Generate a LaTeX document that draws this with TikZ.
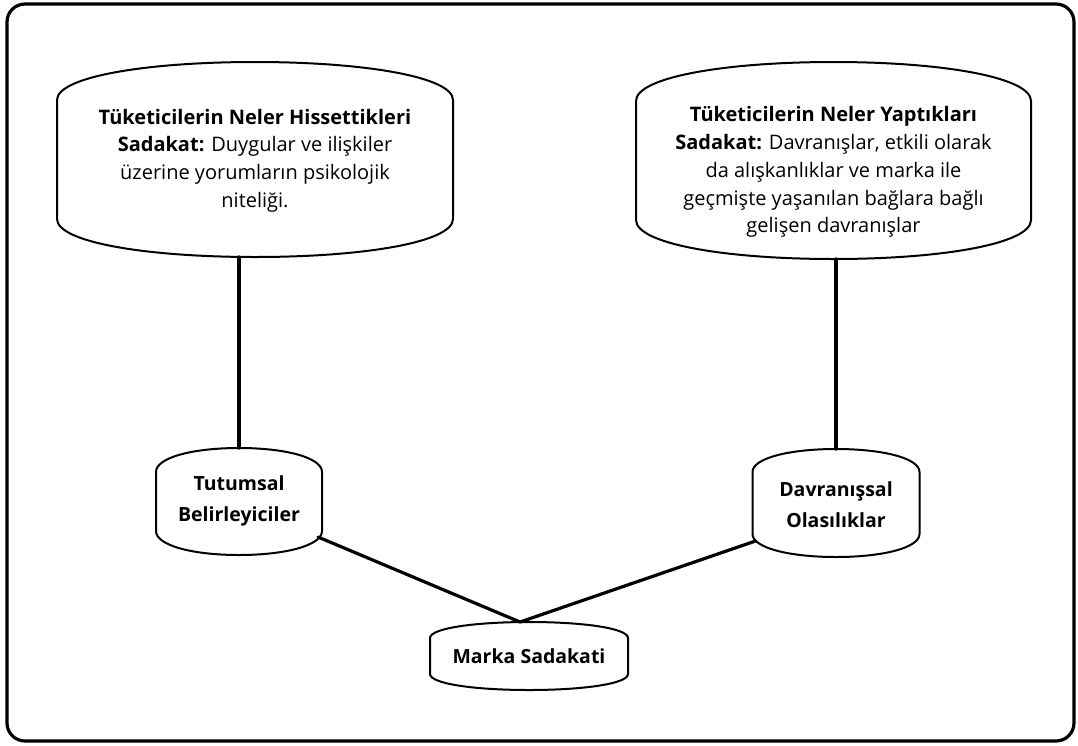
\documentclass[tikz,border=0pt]{standalone}
\usepackage{fontspec}
\setmainfont{Open Sans}
\usetikzlibrary{calc}

\tikzset{
  frame/.style={line width=3.2pt, rounded corners=18pt},
  outline/.style={line width=2pt, line join=round},
  link/.style={line width=3.2pt, line cap=round},
  holder/.style={inner sep=0pt, outer sep=0pt},
  txt/.style={align=center, inner sep=0pt, font=\fontsize{20}{27.8}\selectfont},
  smalltxt/.style={align=center, inner sep=0pt, font=\bfseries\fontsize{19.5}{31}\selectfont},
}

% Drum-like outline: straight sides, curved top and bottom caps.
% #1 = node name, #2 = depth of each cap (in pt)
\newcommand{\drumoutline}[2]{%
  \draw[outline] let \p1=(#1.north west), \p2=(#1.south east),
      \n1={#2}, \n2={0.22*(\x2-\x1)} in
    (\x1,{\y1-\n1*1pt})
      .. controls (\x1,{\y1-0.4*\n1*1pt}) and ({\x1+\n2*1pt},\y1) .. ({0.5*\x1+0.5*\x2},\y1)
      .. controls ({\x2-\n2*1pt},\y1) and (\x2,{\y1-0.4*\n1*1pt}) .. (\x2,{\y1-\n1*1pt})
    -- (\x2,{\y2+\n1*1pt})
      .. controls (\x2,{\y2+0.4*\n1*1pt}) and ({\x2-\n2*1pt},\y2) .. ({0.5*\x1+0.5*\x2},\y2)
      .. controls ({\x1+\n2*1pt},\y2) and (\x1,{\y2+0.4*\n1*1pt}) .. (\x1,{\y2+\n1*1pt})
    -- cycle;
}

\begin{document}
\begin{tikzpicture}[x=1pt, y=-1pt]
  \useasboundingbox (0,0) rectangle (1078,745);

  % outer frame
  \draw[frame] (7,4) rectangle (1074,741);

  % shape holders
  \node[holder, minimum width=396pt, minimum height=195pt] (lt) at (255,159.5) {};
  \node[holder, minimum width=395pt, minimum height=197pt] (rt) at (833.5,160.5) {};
  \node[holder, minimum width=166pt, minimum height=107pt] (tut) at (239,501.5) {};
  \node[holder, minimum width=167pt, minimum height=108pt] (dav) at (836,503) {};
  \node[holder, minimum width=198pt, minimum height=68pt] (mk) at (529,656) {};

  % outlines
  \drumoutline{lt}{38}
  \drumoutline{rt}{39}
  \drumoutline{tut}{24}
  \drumoutline{dav}{23}
  \drumoutline{mk}{16}

  % texts
  \node[txt] (ltxt) at ($(lt)+(0,1)$)
    {\textbf{Tüketicilerin Neler Hissettikleri}\\
     \textbf{Sadakat:} Duygular ve ilişkiler\\
     üzerine yorumların psikolojik\\
     niteliği.};
  \node[txt] (rtxt) at ($(rt)+(0,11.5)$)
    {\textbf{Tüketicilerin Neler Yaptıkları}\\
     \textbf{Sadakat:} Davranışlar, etkili olarak\\
     da alışkanlıklar ve marka ile\\
     geçmişte yaşanılan bağlara bağlı\\
     gelişen davranışlar};
  \node[smalltxt] (tuttxt) at ($(tut)+(0,-0.5)$) {Tutumsal\\Belirleyiciler};
  \node[smalltxt] (davtxt) at ($(dav)+(0,2)$) {Davranışsal\\Olasılıklar};
  \node[smalltxt] (mktxt) at (mk) {Marka Sadakati};

  % connectors
  \draw[link] (lt.south -| tut.north) -- (tut.north);
  \draw[link] (rt.south -| dav.north) -- (dav.north);
  \coordinate (mkjoin) at ($(mk.north)+(-9,0)$);
  \draw[link] ($(tut.south east)+(-4,-18)$) -- (mkjoin);
  \draw[link] ($(dav.south west)+(3,-16)$) -- (mkjoin);
\end{tikzpicture}
\end{document}
